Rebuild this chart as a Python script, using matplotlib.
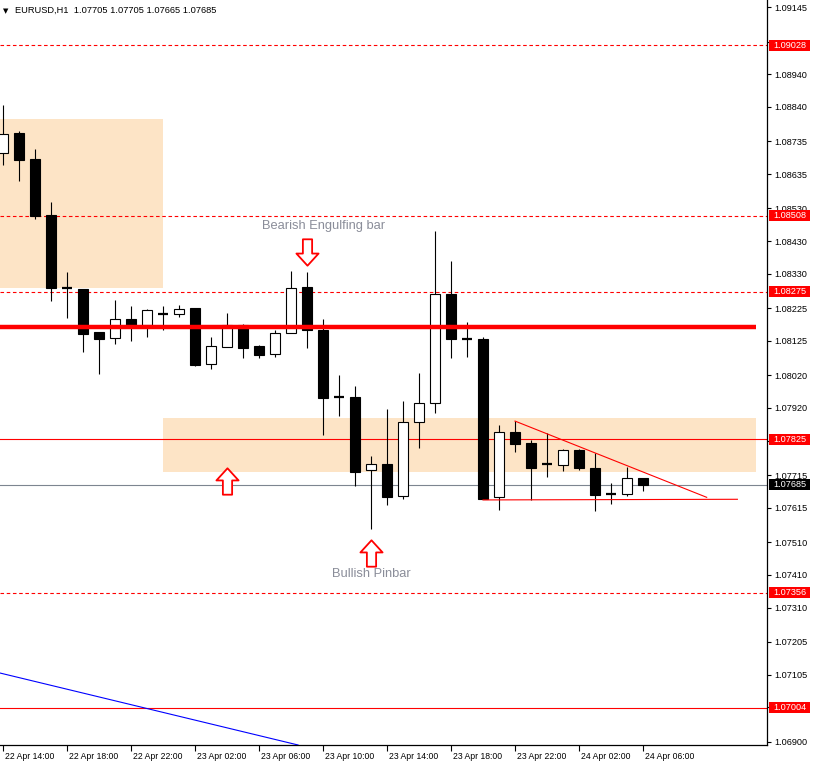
#!/usr/bin/env python
# coding:utf-8
"""plot.py - EURUSD H1 chart with zones and levels"""

import matplotlib
matplotlib.use('Agg')
import matplotlib.pyplot as plt
from matplotlib.path import Path
from matplotlib.patches import Rectangle
from matplotlib.transforms import blended_transform_factory, ScaledTranslation

SYMBOL = 'EURUSD,H1'

# one H1 bar per entry, 22 Apr 14:00 -> 24 Apr 06:00
OPENS = [1.08699, 1.08761, 1.08681, 1.08510, 1.08286, 1.08284, 1.08152, 1.08133,
         1.08192, 1.08173, 1.08208, 1.08206, 1.08225, 1.08054, 1.08106, 1.08173,
         1.08110, 1.08084, 1.08150, 1.08290, 1.08158, 1.07955, 1.07954, 1.07730,
         1.07748, 1.07652, 1.07876, 1.07934, 1.08269, 1.08132, 1.08131, 1.07647,
         1.07846, 1.07812, 1.07749, 1.07747, 1.07792, 1.07737, 1.07656, 1.07658,
         1.07705]
HIGHS = [1.08846, 1.08767, 1.08712, 1.08550, 1.08336, 1.08285, 1.08152, 1.08250,
         1.08232, 1.08223, 1.08232, 1.08235, 1.08226, 1.08137, 1.08210, 1.08176,
         1.08112, 1.08158, 1.08339, 1.08336, 1.08192, 1.08021, 1.07988, 1.07773,
         1.07917, 1.07941, 1.08027, 1.08461, 1.08369, 1.08183, 1.08136, 1.07868,
         1.07880, 1.07822, 1.07843, 1.07795, 1.07795, 1.07783, 1.07690, 1.07741,
         1.07705]
LOWS = [1.08663, 1.08615, 1.08497, 1.08248, 1.08196, 1.08092, 1.08025, 1.08117,
        1.08126, 1.08138, 1.08159, 1.08199, 1.08049, 1.08040, 1.08106, 1.08074,
        1.08074, 1.08077, 1.08150, 1.08104, 1.07837, 1.07896, 1.07683, 1.07551,
        1.07624, 1.07643, 1.07798, 1.07906, 1.08074, 1.08077, 1.07643, 1.07608,
        1.07786, 1.07639, 1.07710, 1.07728, 1.07731, 1.07605, 1.07626, 1.07652,
        1.07665]
CLOSES = [1.08757, 1.08679, 1.08508, 1.08286, 1.08284, 1.08145, 1.08132, 1.08191,
          1.08172, 1.08219, 1.08208, 1.08222, 1.08052, 1.08109, 1.08173, 1.08104,
          1.08083, 1.08148, 1.08286, 1.08159, 1.07952, 1.07955, 1.07725, 1.07748,
          1.07649, 1.07876, 1.07934, 1.08268, 1.08130, 1.08132, 1.07643, 1.07846,
          1.07811, 1.07738, 1.07749, 1.07791, 1.07738, 1.07655, 1.07656, 1.07705,
          1.07685]

TIME_LABELS = ['22 Apr 14:00', '22 Apr 18:00', '22 Apr 22:00', '23 Apr 02:00',
               '23 Apr 06:00', '23 Apr 10:00', '23 Apr 14:00', '23 Apr 18:00',
               '23 Apr 22:00', '24 Apr 02:00', '24 Apr 06:00']

PRICE_TICKS = [1.09145, 1.09040, 1.08940, 1.08840, 1.08735, 1.08635, 1.08530,
               1.08430, 1.08330, 1.08225, 1.08125, 1.08020, 1.07920, 1.07820,
               1.07715, 1.07615, 1.07510, 1.07410, 1.07310, 1.07205, 1.07105,
               1.07005, 1.06900]
# tick labels that sit right under a level box
HIDDEN_TICKS = [1.09040, 1.07820, 1.07005]

DASHED_LEVELS = [1.09028, 1.08508, 1.08275, 1.07356]
SOLID_LEVELS = [1.07825, 1.07004]
KEY_LEVEL = 1.08168
BID = 1.07685

# supply / demand zones: (start bar, end bar, low, high)
ZONES = [(-2.0, 9.98, 1.08288, 1.08804),
         (10.0, 47.05, 1.07725, 1.07889)]

# descending triangle lines (bar, price)
TRI_UPPER = [(32.0, 1.07880), (43.98, 1.07647)]
TRI_LOWER = [(30.0, 1.07639), (45.9, 1.07641)]
BLUE_TREND = [(-0.19, 1.07110), (18.44, 1.06890)]

X_MIN, X_MAX = -0.19, 47.75
Y_MIN, Y_MAX = 1.06890, 1.09167

RED = '#ff0000'
ZONE_COLOR = '#fde4c6'
NOTE_COLOR = '#8a8d99'


def arrow_marker(up=True):
    """Hollow block arrow as a marker path"""
    s = 1 if up else -1
    verts = [(0, 0.5 * s), (0.42, 0.04 * s), (0.175, 0.04 * s),
             (0.175, -0.5 * s), (-0.175, -0.5 * s), (-0.175, 0.04 * s),
             (-0.42, 0.04 * s), (0, 0.5 * s)]
    codes = [Path.MOVETO] + [Path.LINETO] * 6 + [Path.CLOSEPOLY]
    return Path(verts, codes)


def draw_candles(ax):
    idx = list(range(len(OPENS)))
    ax.vlines(idx, LOWS, HIGHS, color='black', lw=0.8, zorder=3)
    for i in idx:
        o, c = OPENS[i], CLOSES[i]
        if abs(o - c) < 0.00003:
            ax.hlines(o, i - 0.33, i + 0.33, color='black', lw=1.6, zorder=4)
            continue
        face = 'white' if c > o else 'black'
        ax.bar(i, abs(c - o), bottom=min(o, c), width=0.64, color=face,
               edgecolor='black', linewidth=0.8, zorder=4)


def draw_levels(ax):
    for lvl in DASHED_LEVELS:
        ax.axhline(lvl, color=RED, lw=0.8, dashes=(3.2, 2.4), zorder=2)
    for lvl in SOLID_LEVELS:
        ax.axhline(lvl, color=RED, lw=0.8, zorder=2)
    ax.axhline(BID, color='#7d8590', lw=0.8, zorder=2)
    ax.hlines(KEY_LEVEL, X_MIN - 1, ZONES[1][1], color=RED, lw=3.2, zorder=5)
    for x0, x1, lo, hi in ZONES:
        ax.fill_between([x0, x1], lo, hi, color=ZONE_COLOR, lw=0, zorder=1)
    for pts, col in ((TRI_UPPER, RED), (TRI_LOWER, RED), (BLUE_TREND, '#0000ff')):
        ax.plot([p[0] for p in pts], [p[1] for p in pts], color=col, lw=0.8,
                zorder=5)


def draw_labels(ax):
    trans = blended_transform_factory(ax.transAxes, ax.transData)
    boxes = [(lvl, RED) for lvl in DASHED_LEVELS + SOLID_LEVELS]
    boxes.append((BID, 'black'))
    box_w = 41 / 767.0
    box_h = (Y_MAX - Y_MIN) * 11 / 745.0
    for lvl, col in boxes:
        ax.add_patch(Rectangle((1.0026, lvl - box_h / 2), box_w, box_h,
                               transform=trans, fc=col, ec='none',
                               clip_on=False, zorder=9))
        ax.text(1.0026 + box_w / 2, lvl, '%.5f' % lvl, transform=trans,
                color='white', fontsize=6.6, ha='center', va='center',
                clip_on=False, zorder=10)

    # pattern notes and arrows
    ax.plot(19, 1.08397, marker=arrow_marker(False), ms=19, mfc='white',
            mec=RED, mew=1.3, zorder=6)
    ax.plot([14.0, 23.02], [1.07697, 1.07477], ls='none',
            marker=arrow_marker(True), ms=19, mfc='white', mec=RED, mew=1.3,
            zorder=6)
    ax.text(20.03, 1.08476, 'Bearish Engulfing bar', color=NOTE_COLOR,
            fontsize=9.3, ha='center', va='center', zorder=6)
    ax.text(23.02, 1.07413, 'Bullish Pinbar', color=NOTE_COLOR,
            fontsize=9.3, ha='center', va='center', zorder=6)

    head = '%s  %.5f %.5f %.5f %.5f' % (SYMBOL, OPENS[-1], HIGHS[-1],
                                         LOWS[-1], CLOSES[-1])
    ax.text(0.0045, 0.9855, '\u25bc', transform=ax.transAxes, fontsize=5,
            family='DejaVu Sans', ha='left', va='center')
    ax.text(0.0195, 0.9855, head, transform=ax.transAxes, fontsize=6.7,
            ha='left', va='center')


def main():
    plt.rcParams['font.family'] = ['Liberation Sans', 'DejaVu Sans']
    fig = plt.figure(figsize=(8.14, 7.66), dpi=100)
    ax = fig.add_axes([0, 21 / 766, 767 / 814, 745 / 766])

    draw_levels(ax)
    draw_candles(ax)
    draw_labels(ax)

    ax.set_xlim(X_MIN, X_MAX)
    ax.set_ylim(Y_MIN, Y_MAX)
    for side in ('top', 'left'):
        ax.spines[side].set_visible(False)
    for side in ('right', 'bottom'):
        ax.spines[side].set_linewidth(0.9)

    ax.yaxis.tick_right()
    ax.set_yticks(PRICE_TICKS)
    ax.set_yticklabels(['' if t in HIDDEN_TICKS else '%.5f' % t
                        for t in PRICE_TICKS])
    ax.tick_params(axis='y', length=3, width=0.8, pad=2, labelsize=6.6)

    ax.set_xticks(list(range(0, len(OPENS), 4)))
    ax.set_xticklabels(TIME_LABELS)
    ax.tick_params(axis='x', length=4, width=0.8, pad=1, labelsize=6.2)
    shift = ScaledTranslation(2 / 100, 0, fig.dpi_scale_trans)
    for lab in ax.get_xticklabels():
        lab.set_horizontalalignment('left')
        lab.set_transform(lab.get_transform() + shift)

    fig.savefig('out.png', dpi=100, facecolor='white')
    plt.close(fig)


if __name__ == '__main__':
    main()
